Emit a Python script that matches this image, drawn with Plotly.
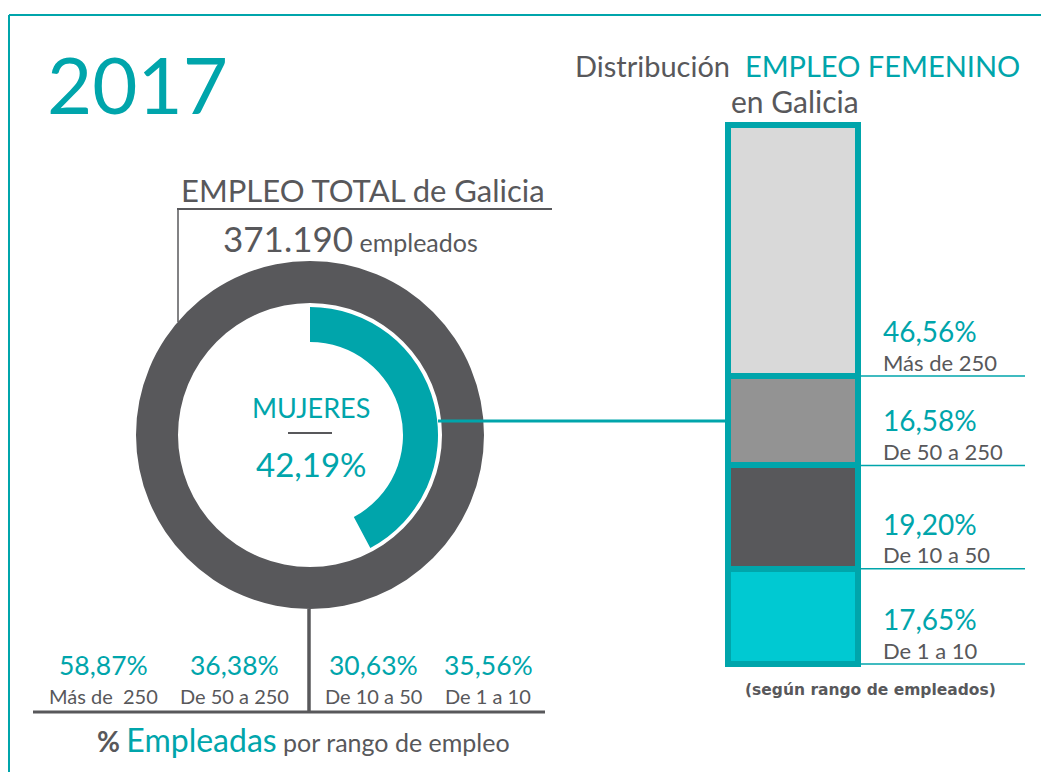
import plotly.graph_objects as go

W, H = 1041, 772

TEAL = "#00a5ab"
GREY = "#58585b"
FONT = "Lato"

# datos
anio = "2017"
empleo_total = "371.190"
pct_mujeres = 42.19

rangos_total = ["Más de  250", "De 50 a 250", "De 10 a 50", "De 1 a 10"]
pct_empleadas = [58.87, 36.38, 30.63, 35.56]

# distribucion del empleo femenino (de abajo a arriba)
rangos_fem = ["De 1 a 10", "De 10 a 50", "De 50 a 250", "Más de 250"]
pct_fem = [17.65, 19.20, 16.58, 46.56]
colores_fem = ["#00c9d2", "#58585b", "#939393", "#d9d9d9"]


def px(x):
    return x / W


def py(y):
    return 1 - y / H


def fmt(v):
    return f"{v:.2f}".replace(".", ",") + "%"


fig = go.Figure()

# anillo gris (empleo total)
cx, cy = 310, 435
R1, r1 = 174, 132
fig.add_trace(go.Pie(
    values=[100], marker=dict(colors=[GREY]), hole=r1 / R1,
    domain=dict(x=[px(cx - R1), px(cx + R1)], y=[py(cy + R1), py(cy - R1)]),
    textinfo="none", hoverinfo="skip", showlegend=False, sort=False,
))
# arco mujeres
R2, r2 = 128, 93
fig.add_trace(go.Pie(
    values=[pct_mujeres, 100 - pct_mujeres],
    marker=dict(colors=[TEAL, "rgba(0,0,0,0)"]), hole=r2 / R2,
    domain=dict(x=[px(cx - R2), px(cx + R2)], y=[py(cy + R2), py(cy - R2)]),
    direction="clockwise", rotation=0, sort=False,
    textinfo="none", hoverinfo="skip", showlegend=False,
))

# barra apilada
for nombre, v, c in zip(rangos_fem, pct_fem, colores_fem):
    fig.add_trace(go.Bar(
        x=[0], y=[v], width=1, name=nombre,
        marker=dict(color=c, line=dict(color=TEAL, width=6)),
        showlegend=False, hoverinfo="skip",
    ))

# ejes de la barra: bordes en px 728-858 (x) y 125-664 (y)
bx0, bx1, by0, by1 = 728, 858, 125, 664
xr = [-0.6, 0.6]
ppu_x = (bx1 - bx0) / 1.0
xc = (bx0 + bx1) / 2
dom_x = [px(xc + xr[0] * ppu_x), px(xc + xr[1] * ppu_x)]
yr = [-2, 102]
ppu_y = (by1 - by0) / 100
dom_y = [py(by1 - yr[0] * ppu_y), py(by1 - yr[1] * ppu_y)]

fig.update_layout(
    width=W, height=H, margin=dict(l=0, r=0, t=0, b=0),
    paper_bgcolor="white", plot_bgcolor="rgba(0,0,0,0)",
    barmode="stack", bargap=0,
    xaxis=dict(range=xr, domain=dom_x, visible=False, fixedrange=True),
    yaxis=dict(range=yr, domain=dom_y, visible=False, fixedrange=True),
    font=dict(family=FONT, color=GREY),
)

shapes = []
ann = []


def line(x0, y0, x1, y1, color, w, yref="paper"):
    shapes.append(dict(type="line", xref="paper", yref=yref,
                       x0=x0, y0=y0, x1=x1, y1=y1,
                       line=dict(color=color, width=w)))


def text(x, y, t, size, color=GREY, xanchor="center", yref="paper", yshift=0, weight=None, family=FONT):
    f = dict(family=family, size=size, color=color)
    if weight:
        f["weight"] = weight
    ann.append(dict(x=x, y=y, xref="paper", yref=yref, text=t, showarrow=False,
                    xanchor=xanchor, yanchor="middle", yshift=yshift, font=f))


# marco
line(px(9), py(15), px(W), py(15), TEAL, 2)
line(px(9), py(15), px(9), py(H), TEAL, 2)

text(px(137), py(84), anio, 78, TEAL)

# cabecera empleo total
text(px(363), py(190), "EMPLEO TOTAL de Galicia", 31)
line(px(177), py(209), px(552), py(209), GREY, 2)
line(px(178), py(209), px(178), py(322), GREY, 1.5)
text(px(350), py(238),
     f"<span style='font-size:35px'>{empleo_total}</span> <span style='font-size:25px'>empleados</span>", 25)

# centro del anillo
text(px(311), py(407), "MUJERES", 27, TEAL)
line(px(288), py(433), px(332), py(433), GREY, 2)
text(px(311), py(464), fmt(pct_mujeres), 33, TEAL)

# conector a la barra
line(px(438), py(421), px(725), py(421), TEAL, 3)

# parte inferior izquierda
line(px(309), py(609), px(309), py(712), GREY, 3.5)
line(px(33), py(712), px(545), py(712), GREY, 3)
xs_total = [103, 234, 373, 488]
for xx, nombre, v in zip(xs_total, rangos_total, pct_empleadas):
    text(px(xx), py(665), fmt(v), 26.5, TEAL)
    text(px(xx), py(696), nombre.replace("  ", "&nbsp; "), 20)
text(px(303), py(739),
     "<span style='font-size:28px'><b>%</b></span> "
     f"<span style='font-size:32px;color:{TEAL}'>Empleadas</span> "
     "<span style='font-size:25px'>por rango de empleo</span>", 25)

# cabecera barra
text(px(797), py(66), f"Distribución&nbsp; <span style='color:{TEAL}'>EMPLEO FEMENINO</span>", 29)
text(px(795), py(101), "en Galicia", 30)

# etiquetas de la barra
base = 0
for nombre, v in zip(rangos_fem, pct_fem):
    line(px(861), base, px(1025), base, TEAL, 1.5, yref="y")
    text(px(881), base, fmt(v), 28, TEAL, xanchor="left", yref="y", yshift=45)
    text(px(881), base, nombre, 22, xanchor="left", yref="y", yshift=14)
    base += v

text(px(870), py(690), "(según rango de empleados)", 15.5, xanchor="center",
     weight="bold", family="DejaVu Sans")

fig.update_layout(shapes=shapes, annotations=ann)

fig.write_html("out.html", config={"displayModeBar": False},
               post_script="document.body.style.margin='0';")
